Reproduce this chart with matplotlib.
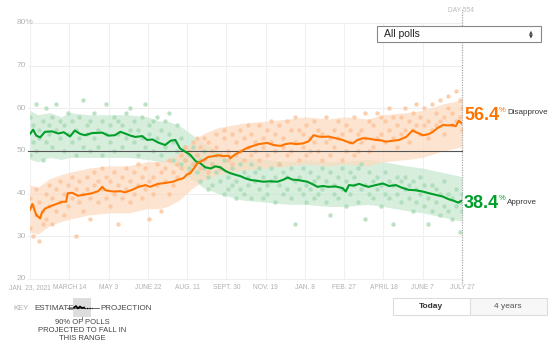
import matplotlib.pyplot as plt
from matplotlib.patches import Rectangle

plt.rcParams['font.family'] = ['Liberation Sans', 'DejaVu Sans']

# days since Jan. 23, 2021
tick_days = [0, 50, 100, 150, 200, 250, 300, 350, 400, 450, 500, 550]
tick_labels = ['JAN. 23, 2021', 'MARCH 14', 'MAY 3', 'JUNE 22', 'AUG. 11', 'SEPT. 30',
               'NOV. 19', 'JAN. 8', 'FEB. 27', 'APRIL 18', 'JUNE 7', 'JULY 27']

# estimate lines
approve_day = [0, 4, 8, 13, 19, 28, 36, 43, 51, 57, 64, 70, 79, 92, 100, 108, 115, 121, 128, 134,
               143, 149, 156, 163, 172, 179, 185, 191, 198, 204, 211, 217, 223, 230, 236, 242, 249,
               255, 262, 268, 274, 281, 290, 297, 306, 315, 323, 328, 334, 341, 347, 353, 360, 366,
               373, 380, 389, 398, 402, 406, 412, 419, 425, 431, 440, 449, 457, 466, 472, 482, 491,
               500, 508, 517, 526, 533, 540, 545, 550]
approve_pct = [54.0, 55.0, 53.6, 53.2, 54.5, 54.6, 54.1, 54.4, 53.4, 54.8, 54.0, 53.7, 54.2, 54.3,
               53.6, 53.7, 54.5, 54.1, 53.6, 53.3, 53.5, 52.6, 52.7, 52.0, 51.4, 52.4, 52.6, 50.6,
               49.8, 49.1, 47.6, 47.1, 46.2, 45.9, 46.4, 46.2, 45.3, 44.8, 44.4, 44.1, 43.6, 43.2,
               43.0, 42.8, 42.9, 42.8, 43.3, 43.8, 43.3, 43.2, 43.0, 42.8, 42.2, 41.6, 41.8, 41.6,
               41.7, 41.3, 40.5, 42.0, 41.9, 42.3, 41.9, 41.6, 42.0, 42.4, 41.8, 42.0, 41.5, 40.9,
               40.8, 40.5, 40.1, 39.7, 39.3, 38.7, 38.3, 37.9, 38.4]

disapprove_day = [0, 3, 8, 13, 15, 19, 28, 34, 41, 46, 48, 54, 61, 70, 79, 87, 92, 96, 102, 108,
                  115, 121, 130, 138, 147, 153, 163, 172, 182, 189, 195, 200, 204, 209, 213, 217,
                  221, 227, 234, 240, 246, 253, 255, 262, 268, 274, 281, 291, 302, 310, 319, 325,
                  332, 339, 348, 355, 361, 367, 373, 380, 389, 398, 406, 411, 417, 424, 431, 440,
                  447, 453, 462, 470, 479, 487, 494, 500, 507, 513, 519, 526, 532, 538, 542, 546, 550]
disapprove_pct = [36.2, 37.6, 35.0, 34.2, 35.5, 36.5, 37.2, 37.6, 38.1, 38.1, 40.1, 40.2, 39.5,
                  39.8, 40.1, 40.6, 41.6, 40.8, 40.6, 40.5, 40.6, 40.3, 40.9, 41.6, 42.0, 41.6,
                  42.3, 42.5, 42.8, 43.3, 43.6, 44.5, 44.8, 46.0, 47.1, 47.5, 47.9, 48.6, 48.8,
                  49.0, 48.8, 48.9, 48.3, 49.3, 49.8, 50.5, 51.0, 51.6, 51.9, 51.4, 51.2, 51.6,
                  51.8, 51.6, 51.8, 52.3, 53.7, 53.4, 53.3, 53.4, 53.0, 52.6, 52.0, 51.8, 52.6,
                  53.0, 52.9, 52.6, 52.5, 52.2, 52.4, 52.6, 53.3, 54.8, 54.2, 53.7, 53.9, 54.5,
                  55.4, 56.1, 56.0, 56.1, 55.8, 57.1, 56.4]

# 90% poll ranges
band_day = [0, 10, 25, 40, 50, 75, 100, 125, 150, 165, 175, 190, 205, 220, 240, 270, 300, 330,
            350, 380, 400, 430, 450, 480, 500, 525, 550]
approve_lo = [48, 47.5, 48.5, 48, 48.5, 48.5, 48.5, 48.5, 48, 47.5, 47.5, 46, 43.5, 41.5, 40,
              38.5, 38, 37.5, 37.5, 37, 37, 37.5, 37, 36, 35.5, 34.5, 33.5]
approve_hi = [59.5, 58.5, 59, 58, 59, 58.5, 58.5, 58.5, 58, 57, 57, 56, 54, 52, 50, 48.5, 48,
              47.5, 48, 47.5, 47.5, 48, 47.5, 46.5, 46, 45, 44]
disapprove_lo = [31, 30.5, 32.5, 33.5, 34, 35, 35.5, 35.5, 36.5, 36.5, 37, 38.5, 41, 43, 44.5,
                 45.5, 46, 46.5, 47, 46.5, 47, 46.5, 47.5, 48, 48.5, 50, 51]
disapprove_hi = [42, 41.5, 43.5, 44.5, 45, 46, 46.5, 46.5, 47.5, 47.5, 48, 49.5, 52, 54, 55.5,
                 56.5, 57, 57.5, 58, 57.5, 58, 57.5, 58.5, 59, 59.5, 61, 62]

# individual polls (two per date shown)
poll_day = [0, 4, 8, 12, 16, 20, 24, 28, 33, 38, 43, 48, 53, 58, 63, 68, 72, 77, 82, 87, 92, 97,
            102, 107, 112, 117, 122, 127, 132, 137, 142, 147, 152, 157, 162, 167, 172, 177, 182,
            187, 192, 197, 202, 207, 212, 217, 222, 227, 232, 237, 242, 247, 252, 257, 262, 267,
            272, 277, 282, 287, 292, 297, 302, 307, 312, 317, 322, 327, 332, 337, 342, 347, 352,
            357, 362, 367, 372, 377, 382, 387, 392, 397, 402, 407, 412, 417, 422, 427, 432, 437,
            442, 447, 452, 457, 462, 467, 472, 477, 482, 487, 492, 497, 502, 507, 512, 517, 522,
            527, 532, 537, 542, 547, 550]
approve_a = [58, 56, 61, 55, 57, 60, 54, 51, 61, 53, 50, 59, 52, 55, 58, 62, 56, 50, 53, 55, 57, 61,
             52, 58, 54, 56, 59, 60, 52, 55, 58, 61, 56, 50, 53, 55, 57, 54, 52, 56, 53, 51, 49,
             47, 45, 48, 46, 44, 47, 45, 43, 40, 44, 46, 43, 41, 45, 42, 47, 43, 41, 44, 40, 46,
             38, 42, 45, 41, 39, 43, 44, 40, 42, 45, 39, 44, 41, 38, 45, 42, 39, 46, 43, 40, 44,
             38, 47, 42, 40, 43, 41, 37, 45, 39, 42, 40, 38, 44, 39, 36, 41, 44, 37, 39, 42, 38,
             40, 43, 36, 39, 41, 31, 36]
approve_b = [49, 52, 50, 53, 48, 52, 56, 58, 55, 57, 56, 54, 57, 49, 53, 51, 54, 57, 59, 51, 49, 54,
             56, 50, 57, 51, 53, 55, 57, 49, 53, 51, 54, 57, 58, 49, 51, 59, 48, 50, 47, 48, 46,
             51, 49, 43, 50, 41, 42, 49, 46, 48, 41, 42, 39, 47, 40, 44, 39, 45, 46, 39, 42, 43,
             44, 47, 40, 44, 46, 33, 41, 46, 38, 41, 43, 40, 46, 43, 35, 40, 44, 41, 37, 45, 42,
             46, 41, 34, 45, 39, 44, 42, 40, 43, 33, 44, 43, 41, 42, 43, 38, 40, 42, 33, 36, 41,
             35, 37, 40, 34, 37, 38, 40]
disapprove_a = [32, 30, 35, 29, 36, 40, 37, 33, 41, 38, 35, 42, 39, 30, 43, 40, 44, 34, 42, 38, 41,
                39, 43, 40, 33, 44, 41, 38, 45, 42, 39, 46, 34, 44, 47, 36, 43, 40, 45, 47, 49, 48,
                50, 47, 49, 46, 48, 52, 47, 51, 49, 53, 50, 54, 52, 55, 48, 51, 54, 50, 56, 53, 49,
                52, 54, 47, 53, 57, 50, 52, 55, 51, 49, 53, 57, 50, 54, 52, 49, 55, 53, 48, 56, 52,
                58, 50, 55, 53, 57, 51, 59, 54, 52, 60, 53, 56, 58, 55, 52, 59, 56, 54, 60, 57, 55,
                59, 62, 58, 60, 56, 64, 58, 55]
disapprove_b = [39, 37, 41, 38, 33, 34, 42, 39, 36, 43, 40, 37, 44, 41, 38, 36, 41, 39, 45, 43, 46,
                44, 37, 45, 42, 39, 46, 43, 40, 47, 44, 41, 43, 40, 42, 45, 46, 48, 42, 44, 46, 51,
                45, 52, 53, 51, 53, 45, 50, 54, 46, 55, 48, 47, 49, 50, 53, 56, 49, 52, 48, 51, 55,
                57, 50, 56, 51, 49, 55, 58, 48, 54, 56, 50, 52, 55, 48, 58, 53, 51, 57, 54, 50, 55,
                49, 54, 52, 59, 50, 56, 53, 58, 57, 55, 58, 51, 54, 60, 57, 55, 61, 58, 56, 53, 61,
                56, 57, 54, 63, 59, 57, 62, 60]

orange = '#ff7400'
green = '#009f29'

W, H = 554, 352
fig = plt.figure(figsize=(W / 100, H / 100), dpi=100)
ax = fig.add_axes([30 / W, 73 / H, 432 / W, 256 / H])
ax.set_xlim(0, 550)
ax.set_ylim(20, 80)
ax.axis('off')


def fx(px):
    return px / W


def fy(py):
    return 1 - py / H


# grid
for v in range(20, 81, 10):
    ax.plot([-3, 550], [v, v], color='#eeeeee', lw=0.8, clip_on=False, zorder=0)
    lab = '80%' if v == 80 else str(v)
    fig.text(fx(17), fy(279 - (v - 20) * 256 / 60), lab, ha='left', va='center',
             fontsize=6, color='#b5b5b5')
for d, lab in zip(tick_days, tick_labels):
    ax.plot([d, d], [20, 80], color='#f0f0f0', lw=0.8, zorder=0)
    ax.text(d, 18, lab, ha='center', va='center', fontsize=4.8, color='#b0b0b0')

# bands
ax.fill_between(band_day, approve_lo, approve_hi, color='#c6e8cf', alpha=0.7, lw=0, zorder=1)
ax.fill_between(band_day, disapprove_lo, disapprove_hi, color='#fdd9bd', alpha=0.7, lw=0, zorder=1)

# polls
ax.scatter(poll_day, approve_a, s=10, color='#a9dbb5', alpha=0.8, lw=0, zorder=2)
ax.scatter(poll_day, approve_b, s=10, color='#a9dbb5', alpha=0.8, lw=0, zorder=2)
ax.scatter(poll_day, disapprove_a, s=10, color='#fcc39a', alpha=0.8, lw=0, zorder=2)
ax.scatter(poll_day, disapprove_b, s=10, color='#fcc39a', alpha=0.8, lw=0, zorder=2)

ax.plot([-3, 550], [50, 50], color='#555555', lw=0.8, clip_on=False, zorder=3)

ax.plot(approve_day, approve_pct, color=green, lw=1.5, zorder=4)
ax.plot(disapprove_day, disapprove_pct, color=orange, lw=1.5, zorder=4)

# today marker
ax.plot([550, 550], [19, 83.5], color='#aaaaaa', lw=0.9, ls=(0, (1, 1)), clip_on=False, zorder=5)
fig.text(fx(461), fy(10), 'DAY 554', ha='center', va='center', fontsize=4.8, color='#bbbbbb')

# end labels
fig.text(fx(464), fy(115), '56.4', ha='left', va='center', fontsize=13, fontweight='bold', color=orange)
fig.text(fx(499), fy(110), '%', ha='left', va='center', fontsize=5.5, color=orange)
fig.text(fx(507), fy(113), 'Disapprove', ha='left', va='center', fontsize=5.8, color='#333333')
fig.text(fx(464), fy(204), '38.4', ha='left', va='center', fontsize=13, fontweight='bold', color=green)
fig.text(fx(499), fy(199), '%', ha='left', va='center', fontsize=5.5, color=green)
fig.text(fx(507), fy(202), 'Approve', ha='left', va='center', fontsize=5.8, color='#333333')

# dropdown
fig.add_artist(Rectangle((fx(377), fy(42)), fx(164), 16.5 / H, transform=fig.transFigure,
                         facecolor='white', edgecolor='#888888', lw=0.8))
fig.text(fx(384), fy(34), 'All polls', ha='left', va='center', fontsize=7.5, color='#222222')
fig.text(fx(531), fy(32), '▲', ha='center', va='center', fontsize=3.6, color='#444444',
         family='DejaVu Sans')
fig.text(fx(531), fy(36), '▼', ha='center', va='center', fontsize=3.6, color='#444444',
         family='DejaVu Sans')

# key
fig.text(fx(13), fy(308), 'KEY', ha='left', va='center', fontsize=5.5, color='#aaaaaa')
fig.text(fx(34), fy(308), 'ESTIMATE', ha='left', va='center', fontsize=5.8, color='#444444')
fig.add_artist(Rectangle((fx(73), fy(317)), fx(18), 19 / H, transform=fig.transFigure,
                         facecolor='#dddddd', edgecolor='none'))
fig.add_artist(plt.Line2D([fx(67), fx(99)], [fy(307.5), fy(307.5)], transform=fig.transFigure,
                          color='#333333', lw=0.5))
fig.add_artist(plt.Line2D([fx(74), fx(76), fx(78), fx(80), fx(82), fx(84)],
                          [fy(307.5), fy(306), fy(308.5), fy(306.5), fy(308), fy(307.5)],
                          transform=fig.transFigure, color='black', lw=1.2))
fig.add_artist(plt.Line2D([fx(84), fx(92)], [fy(307.5), fy(307.5)], transform=fig.transFigure,
                          color='black', lw=0.9, ls=(0, (1, 1))))
fig.add_artist(plt.Line2D([fx(82), fx(82)], [fy(317), fy(320)], transform=fig.transFigure,
                          color='#666666', lw=0.6))
fig.text(fx(100), fy(308), 'PROJECTION', ha='left', va='center', fontsize=5.8, color='#444444')
fig.text(fx(82), fy(331), '90% OF POLLS\nPROJECTED TO FALL IN\nTHIS RANGE', ha='center',
         va='center', fontsize=5.5, color='#444444', linespacing=1.2)

# buttons
fig.add_artist(Rectangle((fx(393), fy(315)), fx(77), 17 / H, transform=fig.transFigure,
                         facecolor='white', edgecolor='#dddddd', lw=0.8))
fig.add_artist(Rectangle((fx(470), fy(315)), fx(77), 17 / H, transform=fig.transFigure,
                         facecolor='#f7f7f7', edgecolor='#dddddd', lw=0.8))
fig.text(fx(431), fy(307), 'Today', ha='center', va='center', fontsize=6, fontweight='bold', color='#333333')
fig.text(fx(508), fy(307), '4 years', ha='center', va='center', fontsize=6, color='#555555')

fig.savefig('out.png', dpi=100)
